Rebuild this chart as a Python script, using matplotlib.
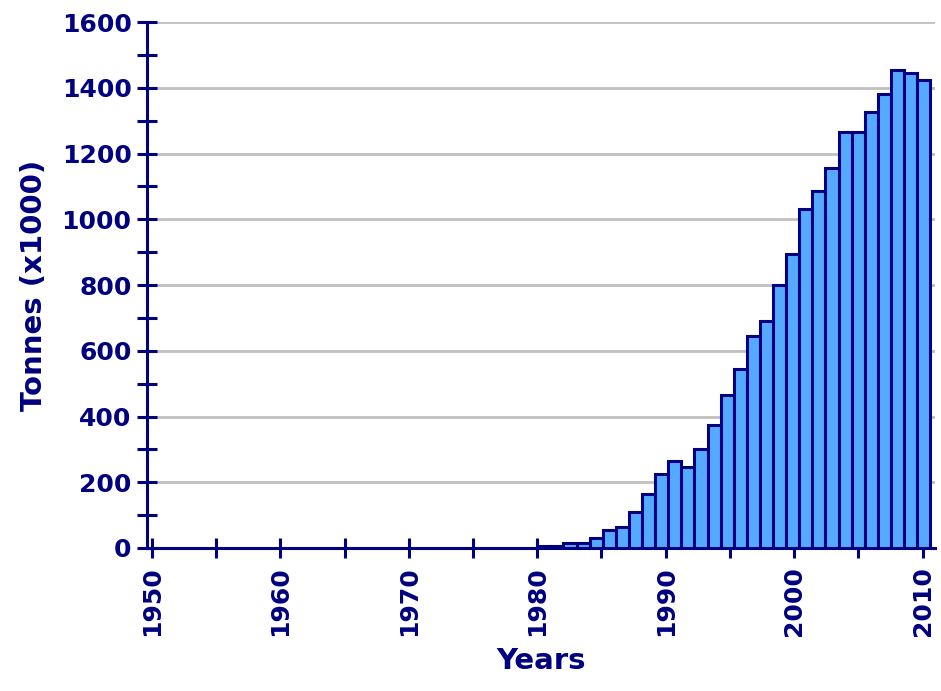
import matplotlib
matplotlib.use("Agg")
import matplotlib.pyplot as plt
import numpy as np

NAVY = "#000080"
FILL = "#55AAFF"

years = np.arange(1980, 2010)
tonnes = [5, 5, 15, 15, 30, 55, 65, 110, 165, 225, 265, 245, 300, 375, 465,
          545, 645, 690, 800, 895, 1030, 1085, 1155, 1265, 1265, 1325, 1380,
          1455, 1445, 1425]

fig = plt.figure(figsize=(9.41, 6.91), dpi=100)
ax = fig.add_axes([0.156, 0.207, 0.838, 0.761])

w = 1.02
ax.bar(1980 + (years - 1980) * w, tonnes, width=w, align="edge", color=FILL,
       edgecolor=NAVY, linewidth=2.2, zorder=3)

ax.set_xlim(1949.6, 2011)
ax.set_ylim(0, 1600)
ax.set_xticks(range(1950, 2011, 10))
ax.set_xticks(range(1955, 2011, 10), minor=True)
ax.set_yticks(range(0, 1601, 200))
ax.set_yticks(range(100, 1600, 200), minor=True)
ax.yaxis.grid(True, which="major", color="#c0c0c0", linewidth=2, zorder=0)

for s in ["top", "right"]:
    ax.spines[s].set_visible(False)
for s in ["left", "bottom"]:
    ax.spines[s].set_color(NAVY)
    ax.spines[s].set_linewidth(2.2)

ax.tick_params(axis="both", which="both", direction="inout", color=NAVY,
               width=2.2, length=14, labelcolor=NAVY, labelsize=18)
ax.tick_params(axis="x", labelrotation=90, pad=6)
ax.tick_params(axis="y", pad=4)
for lab in ax.get_xticklabels() + ax.get_yticklabels():
    lab.set_fontweight("bold")

ax.set_xlabel("Years", color=NAVY, fontsize=21, fontweight="bold", labelpad=8)
ax.set_ylabel("Tonnes (x1000)", color=NAVY, fontsize=21, fontweight="bold", labelpad=10)

fig.savefig("out.png", dpi=100)
